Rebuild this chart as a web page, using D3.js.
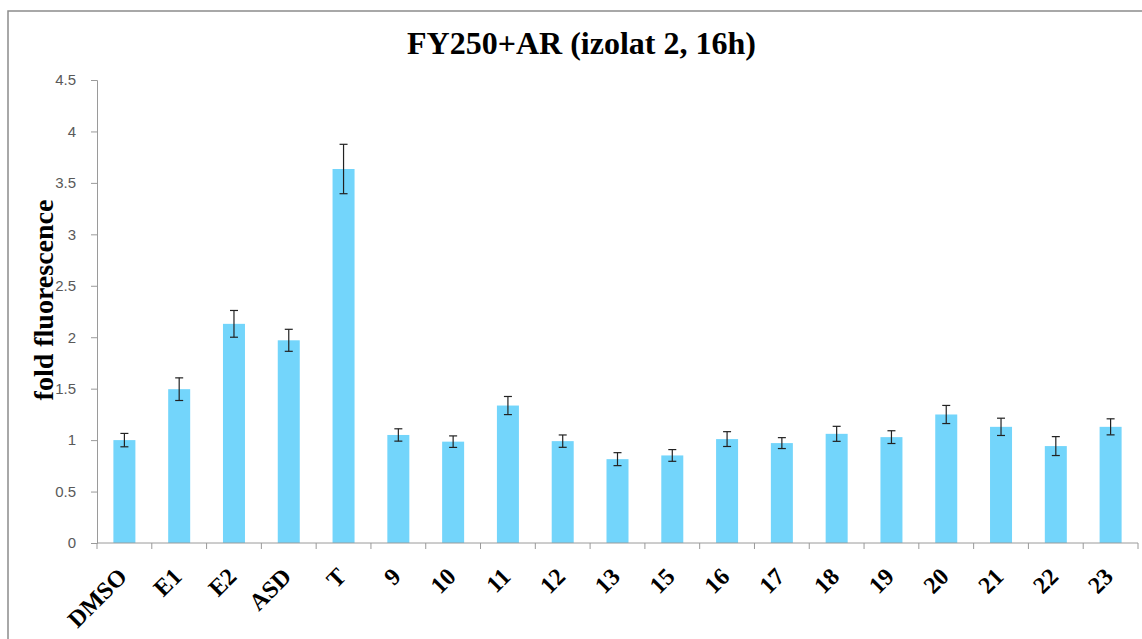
<!DOCTYPE html>
<html>
<head>
<meta charset="utf-8">
<script src="https://cdn.jsdelivr.net/npm/d3@7"></script>
<style>
  body { margin: 0; background: #fff; }
  svg { display: block; }
</style>
</head>
<body>
<div id="chart"></div>
<script>
const width = 1142;
const height = 639;

// values
const categories = ['DMSO', 'E1', 'E2', 'ASD', 'T', '9', '10', '11', '12', '13', '15', '16', '17', '18', '19', '20', '21', '22', '23'];
const values = [1.00, 1.495, 2.13, 1.97, 3.635, 1.05, 0.985, 1.336, 0.99, 0.815, 0.851, 1.01, 0.971, 1.061, 1.029, 1.249, 1.129, 0.942, 1.129];
const errors = [0.065, 0.11, 0.13, 0.107, 0.24, 0.06, 0.056, 0.088, 0.06, 0.063, 0.057, 0.072, 0.053, 0.073, 0.062, 0.088, 0.084, 0.092, 0.078];
const yTicks = [0, 0.5, 1, 1.5, 2, 2.5, 3, 3.5, 4, 4.5];

const data = categories.map((c, i) => ({ name: c, value: values[i], err: errors[i] }));

const margin = { left: 97, right: 1138, top: 80, bottom: 543 };

const svg = d3.select('#chart').append('svg')
    .attr('width', width)
    .attr('height', height);

// outer chart frame (right and bottom edges lie outside the picture)
svg.append('rect')
    .attr('x', 8)
    .attr('y', 11)
    .attr('width', width + 20)
    .attr('height', height + 20)
    .attr('fill', 'none')
    .attr('stroke', '#8c8c8c')
    .attr('stroke-width', 1.5);

const x = d3.scaleBand()
    .domain(categories)
    .range([margin.left, margin.right])
    .paddingInner(0)
    .paddingOuter(0);

const y = d3.scaleLinear()
    .domain([0, 4.5])
    .range([margin.bottom, margin.top]);

const barW = 22;

// y axis
const yAxis = svg.append('g')
    .attr('transform', `translate(${margin.left},0)`)
    .call(d3.axisLeft(y).tickValues(yTicks).tickSize(6).tickPadding(15).tickFormat(d => d));
yAxis.select('.domain').attr('stroke', '#9a9a9a');
yAxis.selectAll('.tick line').attr('stroke', '#9a9a9a');
yAxis.selectAll('text')
    .attr('font-family', '"Liberation Sans", Arial, sans-serif')
    .attr('font-size', '15px')
    .attr('fill', '#595959');

// bars
svg.selectAll('rect.bar')
    .data(data)
    .enter()
    .append('rect')
    .attr('class', 'bar')
    .attr('x', d => x(d.name) + x.bandwidth() / 2 - barW / 2)
    .attr('y', d => y(d.value))
    .attr('width', barW)
    .attr('height', d => y(0) - y(d.value))
    .attr('fill', '#73d5fb');

// x axis (ticks at category boundaries)
const xAxisG = svg.append('g');
xAxisG.append('line')
    .attr('x1', margin.left)
    .attr('x2', margin.right)
    .attr('y1', y(0))
    .attr('y2', y(0))
    .attr('stroke', '#9a9a9a');
const boundaries = categories.map(c => x(c)).concat([margin.right]);
xAxisG.selectAll('line.tick')
    .data(boundaries)
    .enter()
    .append('line')
    .attr('class', 'tick')
    .attr('x1', d => d)
    .attr('x2', d => d)
    .attr('y1', y(0))
    .attr('y2', y(0) + 6)
    .attr('stroke', '#9a9a9a');

// error bars
const eb = svg.selectAll('g.err')
    .data(data)
    .enter()
    .append('g')
    .attr('class', 'err')
    .attr('stroke', '#222')
    .attr('stroke-width', 1.2);
eb.append('line')
    .attr('x1', d => x(d.name) + x.bandwidth() / 2)
    .attr('x2', d => x(d.name) + x.bandwidth() / 2)
    .attr('y1', d => y(d.value + d.err))
    .attr('y2', d => y(d.value - d.err));
eb.append('line')
    .attr('x1', d => x(d.name) + x.bandwidth() / 2 - 4)
    .attr('x2', d => x(d.name) + x.bandwidth() / 2 + 4)
    .attr('y1', d => y(d.value + d.err))
    .attr('y2', d => y(d.value + d.err));
eb.append('line')
    .attr('x1', d => x(d.name) + x.bandwidth() / 2 - 4)
    .attr('x2', d => x(d.name) + x.bandwidth() / 2 + 4)
    .attr('y1', d => y(d.value - d.err))
    .attr('y2', d => y(d.value - d.err));

// rotated category labels
svg.selectAll('text.xlab')
    .data(categories)
    .enter()
    .append('text')
    .attr('class', 'xlab')
    .attr('transform', d => `translate(${x(d) + x.bandwidth() / 2 + 4},${y(0) + 35}) rotate(-45)`)
    .attr('text-anchor', 'end')
    .attr('font-family', '"Liberation Serif", "Times New Roman", serif')
    .attr('font-weight', 'bold')
    .attr('font-size', '24px')
    .attr('fill', '#000')
    .text(d => d);

// title
svg.append('text')
    .attr('x', 581.5)
    .attr('y', 54)
    .attr('text-anchor', 'middle')
    .attr('font-family', '"Liberation Serif", "Times New Roman", serif')
    .attr('font-weight', 'bold')
    .attr('font-size', '32px')
    .text('FY250+AR (izolat 2, 16h)');

// y axis title
svg.append('text')
    .attr('transform', 'translate(53,300) rotate(-90)')
    .attr('text-anchor', 'middle')
    .attr('font-family', '"Liberation Serif", "Times New Roman", serif')
    .attr('font-weight', 'bold')
    .attr('font-size', '28px')
    .text('fold fluorescence');
</script>
</body>
</html>
